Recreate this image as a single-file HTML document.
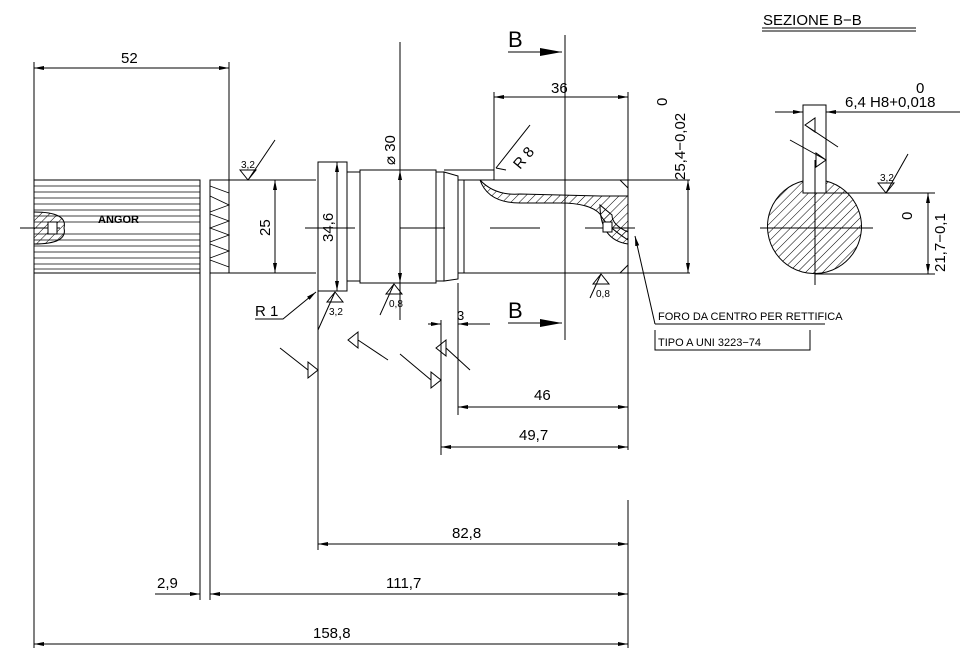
<!DOCTYPE html>
<html><head><meta charset="utf-8"><style>
html,body{margin:0;padding:0;background:#fff;}
svg{display:block;}
text{font-family:"Liberation Sans",sans-serif;fill:#000;}
</style></head><body>
<svg width="965" height="648" viewBox="0 0 965 648" xmlns="http://www.w3.org/2000/svg">
<defs>
<pattern id="h" width="6" height="6" patternUnits="userSpaceOnUse" patternTransform="rotate(45)">
<line x1="0" y1="0" x2="0" y2="6" stroke="#000" stroke-width="1"/></pattern>
<marker id="a" markerWidth="10" markerHeight="6" refX="10" refY="3" orient="auto-start-reverse" markerUnits="userSpaceOnUse"><path d="M0,1 L10,3 L0,5z" fill="#000"/></marker>
<marker id="b" markerWidth="22" markerHeight="10" refX="22" refY="5" orient="auto" markerUnits="userSpaceOnUse"><path d="M0,1 L22,5 L0,9z" fill="#000"/></marker>
</defs>
<g stroke="#000" stroke-width="1" fill="none">
<line x1="34" y1="62" x2="34" y2="648"/>
<line x1="229" y1="62" x2="229" y2="180"/>
<line x1="200" y1="180" x2="200" y2="600"/>
<line x1="210" y1="180" x2="210" y2="600"/>
<line x1="318" y1="291" x2="318" y2="550"/>
<line x1="628" y1="92" x2="628" y2="450"/>
<line x1="628" y1="500" x2="628" y2="648"/>
<line x1="441" y1="320" x2="441" y2="455"/>
<line x1="458" y1="283" x2="458" y2="415"/>
<line x1="494" y1="92" x2="494" y2="180"/>
<line x1="400" y1="42" x2="400" y2="320"/>
<line x1="565" y1="35" x2="565" y2="340"/>
<line x1="20" y1="228" x2="60" y2="228"/>
<line x1="305" y1="228" x2="355" y2="228"/>
<line x1="400" y1="228" x2="445" y2="228"/>
<line x1="490" y1="228" x2="540" y2="228"/>
<line x1="585" y1="228" x2="635" y2="228"/>
<rect x="34" y="180" width="166" height="93"/>
<rect x="210" y="180" width="19" height="93"/>
<g stroke-width="0.8">
<line x1="34" y1="186" x2="200" y2="186"/><line x1="34" y1="192" x2="200" y2="192"/>
<line x1="34" y1="198" x2="200" y2="198"/><line x1="34" y1="204" x2="200" y2="204"/>
<line x1="34" y1="210" x2="200" y2="210"/><line x1="34" y1="216" x2="200" y2="216"/>
<line x1="34" y1="222" x2="200" y2="222"/><line x1="34" y1="234" x2="200" y2="234"/>
<line x1="34" y1="240" x2="200" y2="240"/><line x1="34" y1="246" x2="200" y2="246"/>
<line x1="34" y1="252" x2="200" y2="252"/><line x1="34" y1="258" x2="200" y2="258"/>
<line x1="34" y1="264" x2="200" y2="264"/><line x1="34" y1="269" x2="200" y2="269"/>
<path d="M210,186 L229,193 M210,196 L229,205 L210,212 M210,214 L229,221 L210,228 L229,235 L210,242 M210,244 L229,251 L210,258 M210,260 L229,267"/>
</g>
<path d="M34,212 Q68,212 64,228 Q68,244 34,244" fill="url(#h)"/>
<rect x="48" y="222" width="9" height="12" fill="#fff"/>
<line x1="229" y1="180" x2="316" y2="180"/>
<line x1="229" y1="273" x2="316" y2="273"/>
<rect x="318" y="162" width="29" height="129"/>
<rect x="347" y="172" width="13" height="109"/>
<rect x="360" y="170" width="76" height="113"/>
<rect x="436" y="172" width="8" height="109"/>
<path d="M444,172 L458,176 L458,279 L444,281 Z"/>
<rect x="458" y="180" width="6" height="93"/>
<line x1="464" y1="180" x2="628" y2="180"/>
<line x1="464" y1="273" x2="628" y2="273"/>
<line x1="628" y1="180" x2="690" y2="180"/>
<line x1="628" y1="273" x2="690" y2="273"/>
<line x1="444" y1="170" x2="494" y2="170"/>
<path d="M480,180 Q495,196 520,194 L600,196 L628,196 L628,240 Q605,225 600,214 Q590,203 560,203 L520,203 Q488,203 480,180Z" fill="url(#h)"/>
<path d="M600,205 Q600,240 628,244 L628,232 Q612,225 612,215 Z" fill="url(#h)"/>
<rect x="603" y="222" width="9" height="10" fill="#fff"/>
<line x1="620" y1="180" x2="628" y2="188"/><line x1="620" y1="273" x2="628" y2="265"/>
<line x1="34" y1="68" x2="229" y2="68" marker-start="url(#a)" marker-end="url(#a)"/>
<line x1="494" y1="97" x2="628" y2="97" marker-start="url(#a)" marker-end="url(#a)"/>
<line x1="688" y1="180" x2="688" y2="273" marker-start="url(#a)" marker-end="url(#a)"/>
<line x1="275" y1="180" x2="275" y2="273" marker-start="url(#a)" marker-end="url(#a)"/>
<line x1="337" y1="162" x2="337" y2="291" marker-start="url(#a)" marker-end="url(#a)"/>
<line x1="400" y1="170" x2="400" y2="283" marker-start="url(#a)" marker-end="url(#a)"/>
<line x1="458" y1="407" x2="628" y2="407" marker-start="url(#a)" marker-end="url(#a)"/>
<line x1="441" y1="447" x2="628" y2="447" marker-start="url(#a)" marker-end="url(#a)"/>
<line x1="318" y1="544" x2="628" y2="544" marker-start="url(#a)" marker-end="url(#a)"/>
<line x1="210" y1="594" x2="628" y2="594" marker-start="url(#a)" marker-end="url(#a)"/>
<line x1="155" y1="594" x2="200" y2="594" marker-end="url(#a)"/>
<line x1="34" y1="644" x2="628" y2="644" marker-start="url(#a)" marker-end="url(#a)"/>
<line x1="428" y1="324" x2="441" y2="324" marker-end="url(#a)"/>
<line x1="490" y1="324" x2="458" y2="324" marker-end="url(#a)"/>
<line x1="508" y1="52" x2="562" y2="52" marker-end="url(#b)"/>
<line x1="508" y1="323" x2="562" y2="323" marker-end="url(#b)"/>
<path d="M255,319 L283,319 L316,292" marker-end="url(#a)"/>
<path d="M496,168 L530,125" /><line x1="496" y1="168" x2="506" y2="170"/>
<path d="M655,324 L635,236" marker-end="url(#a)"/>
<path d="M655,324 L825,324 M655,330 L655,350 L810,350 L810,330"/>
<path d="M240,170 L256,170 L248,180 Z M248,180 L275,140"/>
<path d="M327,302 L343,302 L335,292 Z M335,292 L318,330"/>
<path d="M386,294 L402,294 L394,284 Z M394,284 L380,315"/>
<path d="M593,284 L609,284 L601,274 Z M601,274 L590,298"/>
<path d="M318,370 L308,362 L308,378 Z M308,370 L280,348"/>
<path d="M441,380 L431,372 L431,388 Z M431,380 L400,354"/>
<path d="M348,340 L358,332 L358,348 Z M358,340 L388,360"/>
<path d="M436,348 L446,340 L446,356 Z M446,348 L470,370"/>
<line x1="762" y1="28" x2="916" y2="28"/><line x1="762" y1="31" x2="916" y2="31"/>
<path d="M803,181 A47,47 0 1 0 826,181 L826,193 L803,193 Z" fill="url(#h)"/>
<path d="M803,181 L803,193 L826,193 L826,181"/>
<rect x="803" y="105" width="23" height="88"/>
<line x1="826" y1="193" x2="935" y2="193"/>
<line x1="815" y1="274" x2="935" y2="274"/>
<line x1="760" y1="228" x2="873" y2="228"/>
<line x1="815" y1="160" x2="815" y2="285"/>
<line x1="775" y1="112" x2="803" y2="112" marker-end="url(#a)"/>
<line x1="960" y1="112" x2="826" y2="112" marker-end="url(#a)"/>
<line x1="928" y1="193" x2="928" y2="274" marker-start="url(#a)" marker-end="url(#a)"/>
<path d="M878,183 L894,183 L886,193 Z M886,193 L908,154"/>
<path d="M805,125 L815,118 L815,132 Z M805,125 L838,147"/>
<path d="M826,160 L816,153 L816,167 Z M826,160 L790,140"/>
</g>
<g font-size="15">
<text x="121" y="63">52</text>
<text x="551" y="93">36</text>
<text x="534" y="400">46</text>
<text x="519" y="440">49,7</text>
<text x="452" y="538">82,8</text>
<text x="386" y="588">111,7</text>
<text x="157" y="588">2,9</text>
<text x="313" y="638">158,8</text>
<text x="255" y="316">R  1</text>
<text x="457" y="320" font-size="13">3</text>
<text x="508" y="47" font-size="22">B</text>
<text x="508" y="318" font-size="22">B</text>
<text x="763" y="25">SEZIONE  B−B</text>
<text x="845" y="107">6,4  H8+0,018</text>
<text x="916" y="93">0</text>
<text x="0" y="0" transform="translate(270,236) rotate(-90)">25</text>
<text x="0" y="0" transform="translate(333,242) rotate(-90)">34,6</text>
<text x="0" y="0" transform="translate(395,165) rotate(-90)">⌀ 30</text>
<text x="0" y="0" transform="translate(685,180) rotate(-90)">25,4−0,02</text>
<text x="0" y="0" transform="translate(667,106) rotate(-90)">0</text>
<text x="0" y="0" transform="translate(945,272) rotate(-90)">21,7−0,1</text>
<text x="0" y="0" transform="translate(912,220) rotate(-90)">0</text>
<text x="0" y="0" transform="translate(520,170) rotate(-50)">R 8</text>
</g>
<g font-size="11">
<text x="98" y="223" font-weight="bold">ANGOR</text>
<text x="658" y="320">FORO DA CENTRO PER RETTIFICA</text>
<text x="658" y="346">TIPO  A  UNI  3223−74</text>
<text x="241" y="168" font-size="10">3,2</text>
<text x="329" y="315" font-size="10">3,2</text>
<text x="389" y="307" font-size="10">0,8</text>
<text x="596" y="297" font-size="10">0,8</text>
<text x="880" y="181" font-size="10">3,2</text>
</g>
</svg>
</body></html>
